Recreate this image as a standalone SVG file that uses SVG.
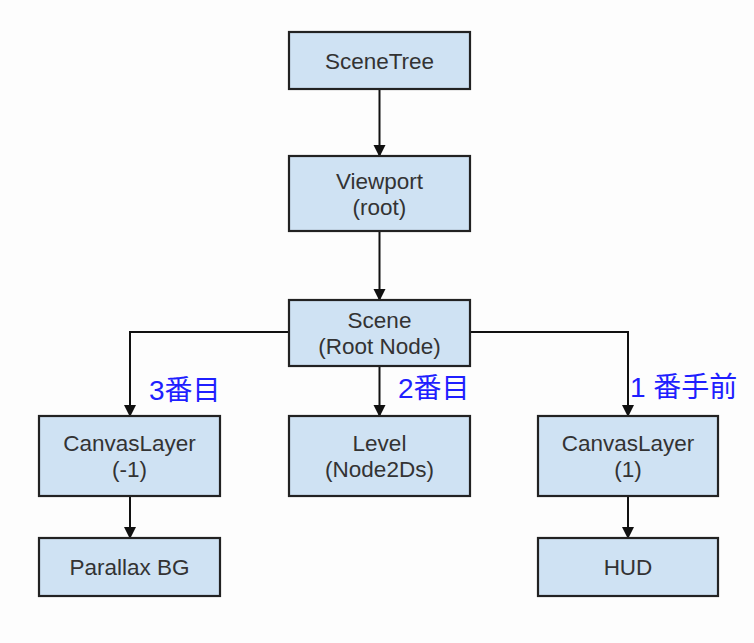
<svg xmlns="http://www.w3.org/2000/svg" width="754" height="643" viewBox="0 0 754 643">
  <defs>
    <marker id="arr" markerUnits="userSpaceOnUse" markerWidth="12" markerHeight="14" refX="11" refY="6" orient="auto">
      <path d="M0,0 L12,6 L0,12 Z" fill="#111"/>
    </marker>
    <style>
      .box { fill: #cfe2f3; stroke: #222; stroke-width: 2.2; }
      .t { font-family: "Liberation Sans", Arial, sans-serif; font-size: 22.5px; fill: #333; text-anchor: middle; }
      .c { fill: none; stroke: #111; stroke-width: 2; marker-end: url(#arr); }
      .lbl { font-family: "Liberation Sans", "Noto Sans CJK JP", sans-serif; font-size: 28px; fill: #1f1fff; }
    </style>
  </defs>
  <rect width="754" height="643" fill="#fdfdfd"/>
  <g id="connectors">
    <path class="c" d="M379.5,89 V156"/>
    <path class="c" d="M379.5,231 V300"/>
    <path class="c" d="M379.5,366 V416"/>
    <path class="c" d="M289,332 H130 V416"/>
    <path class="c" d="M470,332 H628 V416"/>
    <path class="c" d="M130,496 V538"/>
    <path class="c" d="M628,496 V538"/>
  </g>
  <g id="scenetree">
    <rect class="box" x="289" y="32" width="181" height="57"/>
    <text class="t" x="379.5" y="69">SceneTree</text>
  </g>
  <g id="viewport">
    <rect class="box" x="289" y="156" width="181" height="75"/>
    <text class="t" x="379.5" y="189">Viewport</text>
    <text class="t" x="379.5" y="215">(root)</text>
  </g>
  <g id="scene">
    <rect class="box" x="289" y="300" width="181" height="66"/>
    <text class="t" x="379.5" y="328">Scene</text>
    <text class="t" x="379.5" y="354">(Root Node)</text>
  </g>
  <g id="canvaslayer-back">
    <rect class="box" x="39" y="416" width="181" height="80"/>
    <text class="t" x="129.5" y="451">CanvasLayer</text>
    <text class="t" x="129.5" y="477">(-1)</text>
  </g>
  <g id="level">
    <rect class="box" x="289" y="416" width="181" height="80"/>
    <text class="t" x="379.5" y="451">Level</text>
    <text class="t" x="379.5" y="477">(Node2Ds)</text>
  </g>
  <g id="canvaslayer-front">
    <rect class="box" x="538" y="416" width="180" height="80"/>
    <text class="t" x="628" y="451">CanvasLayer</text>
    <text class="t" x="628" y="477">(1)</text>
  </g>
  <g id="parallax">
    <rect class="box" x="39" y="538" width="181" height="58"/>
    <text class="t" x="129.5" y="575">Parallax BG</text>
  </g>
  <g id="hud">
    <rect class="box" x="538" y="538" width="180" height="58"/>
    <text class="t" x="628" y="575">HUD</text>
  </g>
  <g id="labels">
    <text class="lbl" x="149" y="400">3番目</text>
    <text class="lbl" x="398" y="398">2番目</text>
    <text class="lbl" x="630" y="397">1 番手前</text>
  </g>
</svg>
